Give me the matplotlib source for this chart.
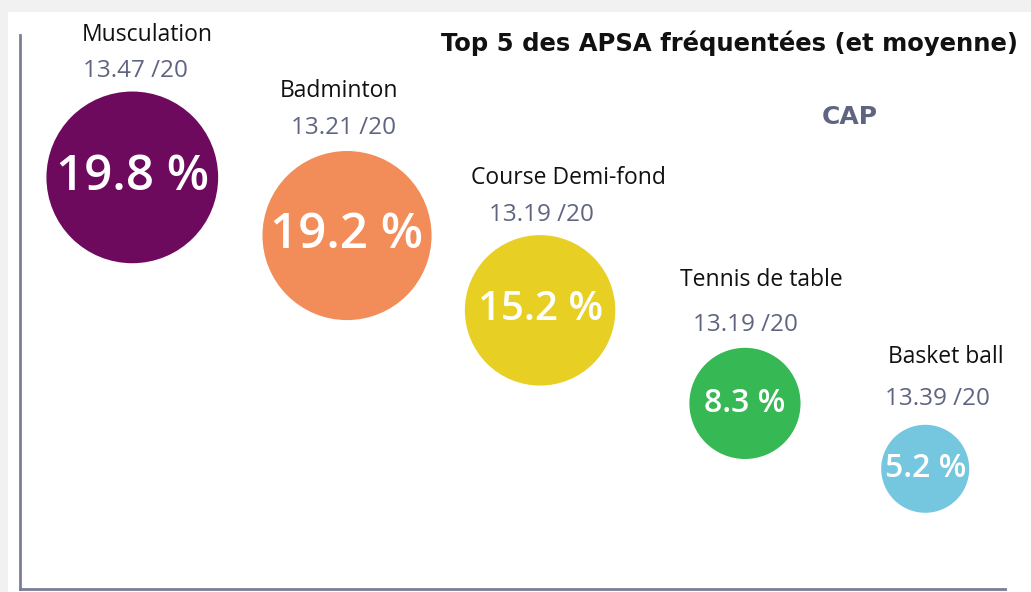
import matplotlib
matplotlib.use("Agg")
import matplotlib.pyplot as plt
from matplotlib.patches import Rectangle

# ---- data ----
activities = ["Musculation", "Badminton", "Course Demi-fond", "Tennis de table", "Basket ball"]
shares = [19.8, 19.2, 15.2, 8.3, 5.2]          # % fréquentation
averages = [13.47, 13.21, 13.19, 13.19, 13.39]  # moyenne /20
x_pos = [11.4, 33.2, 52.8, 73.6, 91.9]
y_pos = [74.3, 63.8, 50.3, 33.5, 21.7]
colors = ["#6e0a5e", "#f28c58", "#e8cf24", "#36b954", "#75c6df"]

W, H, DPI = 1031, 592, 100
fig = plt.figure(figsize=(W / DPI, H / DPI), dpi=DPI)
fig.patch.set_facecolor("#f1f1f1")
bg = fig.add_axes([8 / W, 0, 1 - 8 / W, 1 - 12 / H], zorder=-5)
bg.set_axis_off()
bg.add_patch(Rectangle((0, 0), 1, 1, transform=bg.transAxes, facecolor="white",
                       edgecolor="none"))

ax_l, ax_r, ax_t, ax_b = 20, 1005, 35, 589
ax = fig.add_axes([ax_l / W, 1 - ax_b / H, (ax_r - ax_l) / W, (ax_b - ax_t) / H])
ax.set_xlim(0, 100)
ax.set_ylim(0, 100)
ax.patch.set_alpha(0)
for s in ["top", "right"]:
    ax.spines[s].set_visible(False)
for s in ["left", "bottom"]:
    ax.spines[s].set_color("#7a7f96")
    ax.spines[s].set_linewidth(2)
ax.set_xticks([])
ax.set_yticks([])

# bubble area proportional to share
k = 772
sizes = [k * v for v in shares]
ax.scatter(x_pos, y_pos, s=sizes, c=colors, edgecolors="none", zorder=3, clip_on=False)

font = "Open Sans"
pct_sizes = [35.5, 35.5, 29, 23, 23]
name_dx = [15, -8, 28, 16, 21]
val_dx = [3, -4, 1, 0, 12]
name_gap = [57, 60, 57, 68, 68]
val_gap = [21, 23, 20, 23, 26]
for i, name in enumerate(activities):
    r_px = (sizes[i] ** 0.5) / 2 * DPI / 72
    ax.text(x_pos[i], y_pos[i], f"{shares[i]:.1f} %", ha="center", va="center",
            color="white", fontsize=pct_sizes[i], fontfamily=font, fontweight="semibold",
            zorder=4)
    ax.annotate(name, (x_pos[i], y_pos[i]),
                xytext=(name_dx[i] * 72 / DPI, (r_px + name_gap[i]) * 72 / DPI),
                textcoords="offset points", ha="center", va="center",
                fontsize=16.5, fontfamily=font, color="#111111", annotation_clip=False)
    ax.annotate(f"{averages[i]:.2f} /20", (x_pos[i], y_pos[i]),
                xytext=(val_dx[i] * 72 / DPI, (r_px + val_gap[i]) * 72 / DPI),
                textcoords="offset points", ha="center", va="center",
                fontsize=17.5, fontfamily=font, color="#5f6580", annotation_clip=False)

fig.text(1018 / W, 1 - 43 / H, "Top 5 des APSA fréquentées (et moyenne)", ha="right",
         va="center", fontsize=17.5, fontfamily="DejaVu Sans", fontweight="bold",
         color="#111111")
fig.text(850 / W, 1 - 117 / H, "CAP", ha="center", va="center", fontsize=18,
         fontfamily="DejaVu Sans", fontweight="bold", color="#5f6580")

fig.savefig("out.png", dpi=DPI)
